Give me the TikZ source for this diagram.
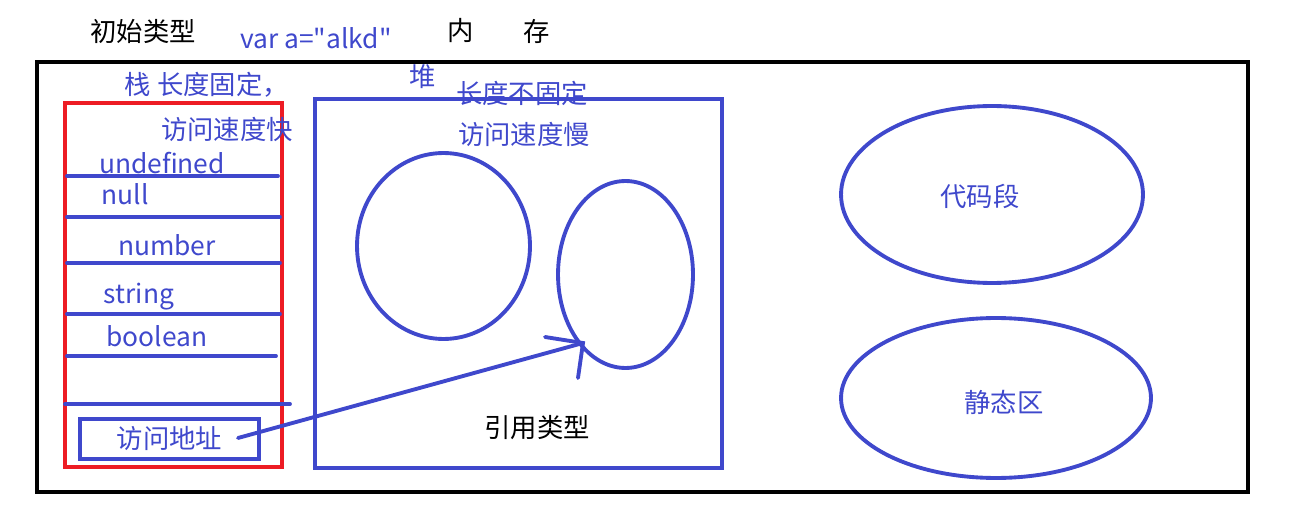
\documentclass[tikz,border=0pt]{standalone}
\usepackage{fontspec}
\newfontfamily\zhfont{Noto Sans CJK SC}
\usetikzlibrary{shapes.geometric}
\definecolor{penblue}{HTML}{3F48CC}
\definecolor{penred}{HTML}{ED1C24}

\begin{document}
\begin{tikzpicture}[x=0.02cm, y=-0.02cm,
        txt/.style={font=\zhfont\fontsize{15}{18}\selectfont, inner sep=0pt},
        note/.style={txt, text=penblue},
        pen/.style={draw=penblue, line width=2.2pt},
        slot/.style={penblue, line width=2.2pt, line cap=round},
        blob/.style={ellipse, pen, txt, text=penblue}]

    \useasboundingbox (0,0) rectangle (1294,523);

    % titles above the memory frame
    \node[txt]  (init)  at (143,31)  {初始类型};
    \node[note] (decl)  at (316,38)  {var a="alkd"};
    \node[txt]  (mem1)  at (461,31)  {内};
    \node[txt]  (mem2)  at (537,31)  {存};

    \node[note] (stackt) at (207,85)  {栈 长度固定，};
    \node[note] (heapt)  at (423,77)  {堆};
    \node[note] (heapn)  at (522,93)  {长度不固定};

    % frames
    \draw[line width=2.8pt] (37,62) rectangle (1248,492);
    \draw[penred, line width=2.3pt] (65,103) rectangle (282,467);
    \draw[pen] (315,99) rectangle (722,468);

    \node[note] (fast) at (227,129) {访问速度快};
    \node[note] (slow) at (524,134) {访问速度慢};

    % stack slots
    \foreach \y/\l/\r in {176/67/278, 217/67/280, 263/67/280,
                          314/67/280, 356/67/276, 404/65/290}
        \draw[slot] (\l,\y) -- (\r,\y);

    \node[note, anchor=base] (undef) at (162,174) {undefined};
    \node[note, anchor=base] (null)  at (125,205) {null};
    \node[note, anchor=base] (num)   at (167,256) {number};
    \node[note, anchor=base] (str)   at (139,304) {string};
    \node[note, anchor=base] (bool)  at (157,346) {boolean};

    \node[note, draw=penblue, line width=2.2pt, minimum width=3.58cm,
          minimum height=0.8cm] (addr) at (169.5,439) {访问地址};

    % heap objects
    \node[blob, minimum width=3.46cm, minimum height=3.72cm] (obj1) at (443.5,246) {};
    \node[blob, minimum width=2.7cm, minimum height=3.74cm]  (obj2) at (625.5,274.5) {};
    \node[txt] (reftype) at (537,428) {引用类型};

    % other areas
    \node[blob, minimum width=6.04cm, minimum height=3.54cm] (code) at (992,194.5) {};
    \node[note] (codet) at (980,196) {代码段};
    \node[blob, minimum width=6.2cm, minimum height=3.2cm]   (static) at (996,398) {};
    \node[note] (statict) at (1004,402) {静态区};

    % pointer from the stack into the heap
    \coordinate (ptr)   at (238,438);
    \coordinate (hit)   at (583,343);
    \coordinate (barbA) at (545,337);
    \coordinate (barbB) at (578,378);
    \draw[slot] (ptr) -- (hit);
    \draw[slot] (barbA) -- (hit) -- (barbB);
\end{tikzpicture}
\end{document}
